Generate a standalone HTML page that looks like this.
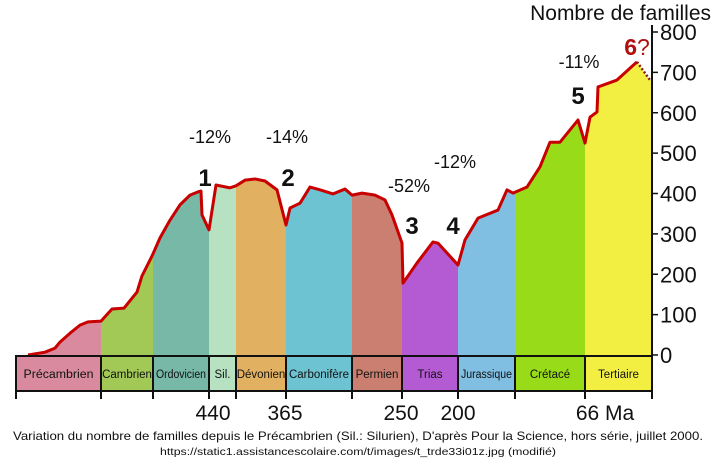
<!DOCTYPE html>
<html><head><meta charset="utf-8"><style>
html,body{margin:0;padding:0;background:#fff;}
svg{display:block;font-family:"Liberation Sans",sans-serif;}
</style></head><body>
<svg id="chart" width="715" height="461" viewBox="0 0 715 461"></svg>
<script>
// time index (arbitrary linear units along the x axis, 0..636) and number of families
const timeIdx = [10,27,37,42,52,62,70,83,94,106,119,124,134,142,152,162,172,180,183,184,191,198,212,218,227,237,247,259,268,272,282,292,302,315,327,334,344,357,367,374,384,385,399,415,420,440,447,460,480,489,495,509,522,532,542,560,567,572,579,580,599,619];
const families = [0,7,17,32,54,74,82,84,114,116,156,196,245,290,334,372,396,404,406,347,310,421,414,419,433,436,431,409,322,364,376,416,409,399,411,396,401,396,384,347,277,178,228,280,277,223,285,339,359,409,401,416,466,527,527,582,525,589,602,664,681,726];
const projIdx = [619,632];
const projVals = [726,681];
const periods = ["Précambrien","Cambrien","Ordovicien","Sil.","Dévonien","Carbonifère","Permien","Trias","Jurassique","Crétacé","Tertiaire"];
const periodStart = [-2,83,135,191,218,268,334,384,440,497,567];
const periodEnd = [83,135,191,218,268,334,384,440,497,567,634];
const periodColors = ["#d98a9e","#a2c955","#77b8a6","#b6e2c2","#e1b060","#6dc3d1","#cb7f70","#b45bd4","#80bee2","#98db18","#f2ef42"];
const yTicks = [0,100,200,300,400,500,600,700,800];
const ageLabels = ["440","365","250","200","66 Ma"];
const ageIdx = [195,267,383,440,587];
const events = [["-12%","1",191,440],["-14%","2",268,440],["-52%","3",384,440],["-12%","4",440,480],["-11%","5",560,0]];

const X0=18, Y0=355, K=323/800;
const xs = t => X0 + t;
const ys = v => Y0 - v*K;
const svg = document.getElementById('chart');
const NS='http://www.w3.org/2000/svg';
function mk(tag, attrs, parent){const e=document.createElementNS(NS,tag);for(const k in attrs)e.setAttribute(k,attrs[k]);(parent||svg).appendChild(e);return e;}

// area clip
const defs = mk('defs',{});
const cp = mk('clipPath',{id:'areaClip'},defs);
let d = 'M'+xs(timeIdx[0])+','+ys(0);
timeIdx.forEach((t,i)=>{d+=' L'+xs(t)+','+ys(families[i]);});
d += ' L'+xs(projIdx[1])+','+ys(projVals[1])+' L'+xs(periodEnd[periodEnd.length-1])+','+ys(projVals[1])+' L'+xs(periodEnd[periodEnd.length-1])+','+ys(0)+' Z';
mk('path',{d:d},cp);

const gArea = mk('g',{'clip-path':'url(#areaClip)'});


periods.forEach((p,i)=>{
  const r = mk('rect',{x:xs(periodStart[i]),y:ys(800),width:periodEnd[i]-periodStart[i],height:ys(0)-ys(800),fill:periodColors[i]},gArea);
  
  
});

// curve
let ld='';
timeIdx.forEach((t,i)=>{ld+=(i?' L':'M')+xs(t)+','+ys(families[i]);});
const line = mk('path',{d:ld,fill:'none',stroke:'#c80000','stroke-width':3,'stroke-linejoin':'round'});


const proj = mk('path',{d:'M'+xs(projIdx[0])+','+ys(projVals[0])+' L'+xs(projIdx[1])+','+ys(projVals[1]),stroke:'#8b1a1a','stroke-width':2.5,'stroke-dasharray':'2,2',fill:'none'});



// period boxes
periods.forEach((p,i)=>{
  const g = mk('g',{});
  
  
  mk('rect',{x:xs(periodStart[i]),y:356,width:periodEnd[i]-periodStart[i],height:35,fill:periodColors[i],stroke:'#111','stroke-width':2},g);
  const tx = mk('text',{x:xs((periodStart[i]+periodEnd[i])/2),y:378,'text-anchor':'middle','font-size':11.5,fill:'#111',textLength:p.length>9?Math.min(periodEnd[i]-periodStart[i]-6,70):null,lengthAdjust:'spacingAndGlyphs'},g);
  if(!(p.length>9)) tx.removeAttribute('textLength');
  tx.textContent=p;
  mk('line',{x1:xs(periodStart[i]),x2:xs(periodStart[i]),y1:391,y2:399,stroke:'#111','stroke-width':2},g);
});
mk('line',{x1:xs(periodEnd[10]),x2:xs(periodEnd[10]),y1:391,y2:399,stroke:'#111','stroke-width':2});

// y axis
const ax = mk('line',{x1:652,x2:652,y1:25,y2:356,stroke:'#111','stroke-width':2});


yTicks.forEach(v=>{
  mk('line',{x1:652,x2:658,y1:ys(v),y2:ys(v),stroke:'#111','stroke-width':1.5});
  const t = mk('text',{x:660,y:ys(v)+8,'font-size':22,fill:'#111'});
  
  
  t.textContent=v;
});
const yt = mk('text',{x:711,y:20,'font-size':21,'text-anchor':'end',fill:'#111'});


yt.textContent='Nombre de familles';

// age labels
ageLabels.forEach((a,i)=>{
  const t = mk('text',{x:xs(ageIdx[i]),y:420,'font-size':21,'text-anchor':'middle',fill:'#111'});
  
  
  t.textContent=a;
});

// events
const evPos=[[210,143,205,186],[287,143,288,186],[409,192,412,234],[455,168,453,234],[579,68,578,104]];
events.forEach((e,i)=>{
  const p=evPos[i];
  const t1 = mk('text',{x:p[0],y:p[1],'font-size':18,'text-anchor':'middle',fill:'#111'});
  
  
  t1.textContent=e[0];
  const t2 = mk('text',{x:p[2],y:p[3],'font-size':24,'font-weight':'bold','text-anchor':'middle',fill:'#111'});
  
  
  t2.textContent=e[1];
});
const six = mk('text',{x:637,y:55,'font-size':23,'font-weight':'bold','text-anchor':'middle',fill:'#b01010'});


six.innerHTML='6<tspan font-weight="normal">?</tspan>';

const c1 = mk('text',{x:358,y:440,'font-size':12,'text-anchor':'middle',fill:'#111',textLength:690,lengthAdjust:'spacingAndGlyphs'});


c1.textContent="Variation du nombre de familles depuis le Précambrien (Sil.: Silurien), D'après Pour la Science, hors série, juillet 2000.";
const c2 = mk('text',{x:358,y:455,'font-size':10.5,'text-anchor':'middle',fill:'#111',textLength:396,lengthAdjust:'spacingAndGlyphs'});


c2.textContent="https://static1.assistancescolaire.com/t/images/t_trde33i01z.jpg (modifié)";
</script>
</body></html>
